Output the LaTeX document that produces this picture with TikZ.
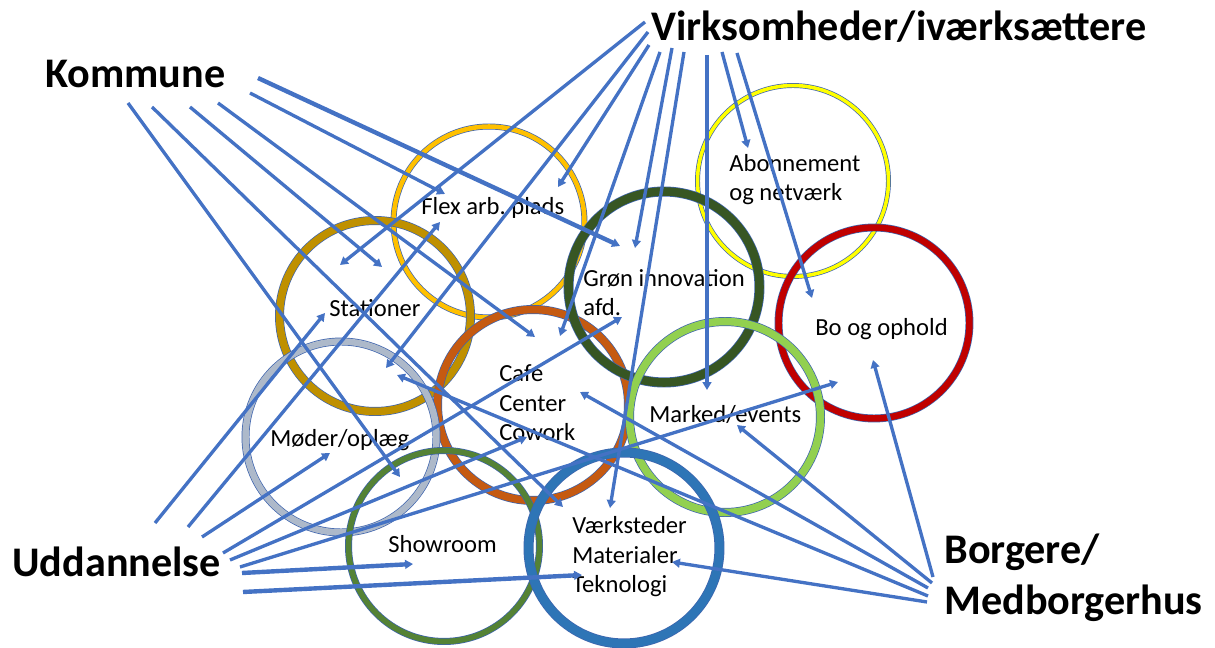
\documentclass[tikz,border=0pt]{standalone}
\usepackage{fontspec}
\setmainfont{Carlito}
\usetikzlibrary{arrows.meta}

\definecolor{linkblue}{HTML}{4472C4}
\definecolor{ringedge}{HTML}{3E64AE}
\definecolor{flexcol}{HTML}{FFC000}
\definecolor{statcol}{HTML}{BF9000}
\definecolor{groencol}{HTML}{375623}
\definecolor{abocol}{HTML}{FFFF00}
\definecolor{bocol}{HTML}{C00000}
\definecolor{cafecol}{HTML}{C55A11}
\definecolor{markcol}{HTML}{92D050}
\definecolor{moedcol}{HTML}{ADB9CA}
\definecolor{showcol}{HTML}{548235}
\definecolor{vaerkcol}{HTML}{2E75B6}

\tikzset{
  ring/.style 2 args={circle, draw=ringedge, line width=0.4pt, double=#1,
    double distance=#2, minimum size=3.82cm, inner sep=0pt},
  txt/.style={font=\fontsize{14}{17}\selectfont, inner sep=0pt, align=left},
  group/.style={font=\fontsize{24}{29.5}\selectfont\bfseries, inner sep=0pt, align=left},
  link/.style={linkblue, line width=1.9pt, -{Triangle[length=4.5pt,width=5pt]}},
  heavy/.style={link, line width=2.5pt},
}

\begin{document}
\begin{tikzpicture}[x=0.02cm, y=-0.02cm]
  \useasboundingbox (0,0) rectangle (1215,648);

  % rings
  \node[ring={abocol}{2pt}] (abo) at (793,181) {};
  \node[ring={flexcol}{2.6pt}] (flex) at (489,222) {};
  \node[ring={statcol}{4.3pt}] (stat) at (375,316) {};
  \node[ring={cafecol}{4.3pt}] (cafe) at (533,405) {};
  \node[ring={groencol}{4.9pt}] (groen) at (664,287) {};
  \node[ring={bocol}{3.7pt}] (bo) at (874,323) {};
  \node[ring={markcol}{4.3pt}] (marked) at (725,417) {};
  \node[ring={moedcol}{3.7pt}] (moeder) at (341,437) {};
  \node[ring={showcol}{3.2pt}] (show) at (444,546) {};
  \node[ring={vaerkcol}{4.9pt}] (vaerk) at (624,548) {};

  % ring texts (base = last line)
  \node[txt, anchor=base west] (abo-t) at (729,201) {Abonnement\\og netværk};
  \node[txt, anchor=base west] (flex-t) at (421,215) {Flex arb.\ plads};
  \node[txt, anchor=base west] (stat-t) at (329,317) {Stationer};
  \node[txt, anchor=base west] (groen-t) at (583,316) {Grøn innovation\\afd.};
  \node[txt, anchor=base west] (bo-t) at (815,336) {Bo og ophold};
  \node[txt, anchor=base west] (cafe-t) at (499,441) {Cafe\\Center\\Cowork};
  \node[txt, anchor=base west] (marked-t) at (649,423) {Marked/events};
  \node[txt, anchor=base west] (moeder-t) at (270,447) {Møder/oplæg};
  \node[txt, anchor=base west] (show-t) at (388,553) {Showroom};
  \node[txt, anchor=base west] (vaerk-t) at (572,593) {Værksteder\\Materialer\\Teknologi};

  % groups
  \node[group, anchor=base west] (kommune) at (45,88) {Kommune};
  \node[group, anchor=base west] (virk) at (651,41) {Virksomheder/iværksættere};
  \node[group, anchor=base west] (udd) at (12,577) {Uddannelse};
  \node[group, anchor=base west] (borg) at (944,615) {Borgere/\\Medborgerhus};

  % line ends at the groups
  \coordinate (kom1) at (258,78);
  \coordinate (kom2) at (250,93);
  \coordinate (kom3) at (218,103);
  \coordinate (kom4) at (190,107);
  \coordinate (kom5) at (152,107);
  \coordinate (kom6) at (128,103);
  \coordinate (virk1) at (645,22);
  \coordinate (virk2) at (648,32);
  \coordinate (virk3) at (649,45);
  \coordinate (virk4) at (660,52);
  \coordinate (virk5) at (672,48);
  \coordinate (virk6) at (684,52);
  \coordinate (virk7) at (707,55);
  \coordinate (virk8) at (722,52);
  \coordinate (virk9) at (737,53);
  \coordinate (udd1) at (155,523);
  \coordinate (udd2) at (188,527);
  \coordinate (udd3) at (202,537);
  \coordinate (udd4) at (223,553);
  \coordinate (udd5) at (230,560);
  \coordinate (udd6) at (240,567);
  \coordinate (udd7) at (242,573);
  \coordinate (udd8) at (243,592);
  \coordinate (borg1) at (933,577);
  \coordinate (borg2) at (932,583);
  \coordinate (borg3) at (928,588);
  \coordinate (borg4) at (928,596);
  \coordinate (borg5) at (927,602);

  % arrow tips inside the rings
  \coordinate (groen-k) at (620,246);
  \coordinate (flex-k) at (445,194);
  \coordinate (cafe-k) at (535,337);
  \coordinate (stat-k) at (382,267);
  \coordinate (vaerk-k) at (563,507);
  \coordinate (show-k) at (400,477);
  \coordinate (stat-v) at (340,265);
  \coordinate (moeder-v) at (386,368);
  \coordinate (flex-v) at (558,187);
  \coordinate (cafe-v) at (560,336);
  \coordinate (groen-v) at (635,248);
  \coordinate (vaerk-v) at (610,508);
  \coordinate (marked-v) at (707,390);
  \coordinate (abo-v) at (748,148);
  \coordinate (bo-v) at (812,298);
  \coordinate (stat-u) at (325,313);
  \coordinate (flex-u) at (440,222);
  \coordinate (moeder-u) at (330,453);
  \coordinate (groen-u) at (622,317);
  \coordinate (cafe-u) at (527,437);
  \coordinate (bo-u) at (838,382);
  \coordinate (show-u) at (413,564);
  \coordinate (vaerk-u) at (582,575);
  \coordinate (bo-b) at (873,360);
  \coordinate (marked-b) at (737,425);
  \coordinate (cafe-b) at (580,392);
  \coordinate (moeder-b) at (397,375);
  \coordinate (vaerk-b) at (672,562);

  \draw[heavy] (kom1) -- (groen-k);
  \draw[link] (kom2) -- (flex-k);
  \draw[link] (kom3) -- (cafe-k);
  \draw[link] (kom4) -- (stat-k);
  \draw[link] (kom5) -- (vaerk-k);
  \draw[link] (kom6) -- (show-k);

  \draw[link] (virk1) -- (stat-v);
  \draw[link] (virk2) -- (moeder-v);
  \draw[link] (virk3) -- (flex-v);
  \draw[link] (virk4) -- (cafe-v);
  \draw[link] (virk5) -- (groen-v);
  \draw[link] (virk6) -- (vaerk-v);
  \draw[link] (virk7) -- (marked-v);
  \draw[link] (virk8) -- (abo-v);
  \draw[link] (virk9) -- (bo-v);

  \draw[link] (udd1) -- (stat-u);
  \draw[link] (udd2) -- (flex-u);
  \draw[link] (udd3) -- (moeder-u);
  \draw[link] (udd4) -- (groen-u);
  \draw[link] (udd5) -- (cafe-u);
  \draw[link] (udd6) -- (bo-u);
  \draw[heavy] (udd7) -- (show-u);
  \draw[heavy] (udd8) -- (vaerk-u);

  \draw[link] (borg1) -- (bo-b);
  \draw[link] (borg2) -- (marked-b);
  \draw[link] (borg3) -- (cafe-b);
  \draw[link] (borg4) -- (moeder-b);
  \draw[link] (borg5) -- (vaerk-b);
\end{tikzpicture}
\end{document}
